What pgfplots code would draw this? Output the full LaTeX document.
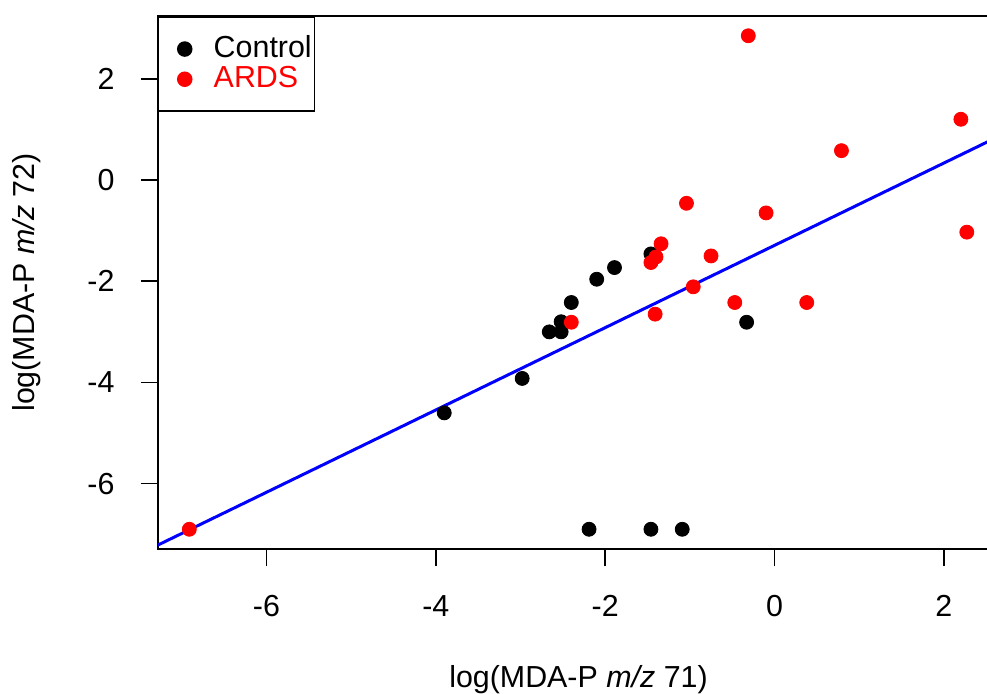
\documentclass[border=0pt]{standalone}
\usepackage{fontspec}
\setmainfont{Liberation Sans}
\usepackage{pgfplots}
\pgfplotsset{compat=1.18}
\begin{document}
\fontsize{15.2pt}{18pt}\selectfont
\begin{tikzpicture}
\begin{axis}[
  scale only axis,
  width=420.5pt, height=266.5pt,
  xmin=-7.28, xmax=2.65, ymin=-7.29, ymax=3.24,
  xtick={-6,-4,-2,0,2}, ytick={-6,-4,-2,0,2},
  /pgf/number format/assume math mode=true,
  tick align=outside, major tick length=8.5pt,
  xtick pos=bottom, ytick pos=left,
  axis line style={line width=0.75pt},
  every tick/.style={black, line width=0.75pt},
  xticklabel style={yshift=-9.5pt},
  yticklabel style={xshift=-8pt},
  xlabel={log(MDA-P \textit{m/z} 71)},
  ylabel={log(MDA-P \textit{m/z} 72)},
  xlabel style={yshift=-14pt},
  ylabel style={yshift=13pt},
  legend style={at={(rel axis cs:0,1)}, anchor=north west, draw=black, line width=0.75pt,
    inner xsep=0pt, inner ysep=7.5pt, row sep=-2pt, cells={anchor=west},
    nodes={inner xsep=1.5pt}},
  legend cell align=left,
  legend image code/.code={\path[draw=none,fill=none] (0pt,-1pt) rectangle (26pt,1pt); \draw[#1] plot coordinates {(13pt,0pt)};},
]
\addplot[only marks, mark=*, mark size=3.5pt, black] coordinates {
(-3.90,-4.60) (-2.98,-3.92) (-2.66,-3.00) (-2.52,-3.00) (-2.52,-2.80)
(-2.40,-2.42) (-2.10,-1.96) (-1.89,-1.73) (-1.46,-1.46) (-0.33,-2.81)
(-2.19,-6.90) (-1.46,-6.90) (-1.09,-6.90)
};
\addlegendentry{Control}
\addplot[only marks, mark=*, mark size=3.5pt, red] coordinates {
(-6.91,-6.90) (-2.40,-2.81) (-1.46,-1.63) (-1.40,-1.52) (-1.34,-1.26)
(-1.41,-2.65) (-0.96,-2.11) (-0.75,-1.50) (-0.47,-2.42) (-0.31,2.85)
(2.20,1.20) (0.79,0.58) (-1.04,-0.46) (-0.10,-0.65) (2.27,-1.03) (0.38,-2.42)
};
\addlegendentry{\textcolor{red}{ARDS}}
\addplot[blue, line width=1.5pt, forget plot] coordinates {(-7.5,-7.39) (2.7,0.905)};
\end{axis}
\pgfresetboundingbox
\path[use as bounding box] (-79pt,-72pt) rectangle (414.5pt,274.5pt);
\end{tikzpicture}
\end{document}
